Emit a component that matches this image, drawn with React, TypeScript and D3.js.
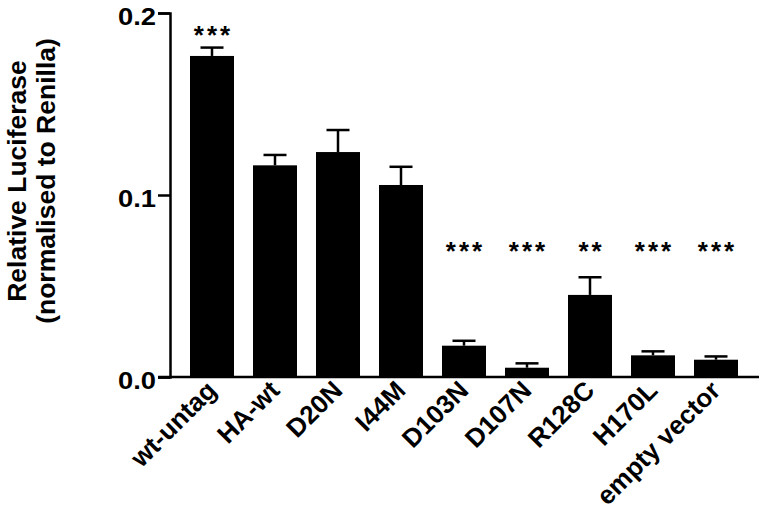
import React, { useEffect, useRef } from "react";
import * as d3 from "d3";

const categories = ["wt-untag", "HA-wt", "D20N", "I44M", "D103N", "D107N", "R128C", "H170L", "empty vector"];
const means = [0.1764, 0.1163, 0.1236, 0.1055, 0.0172, 0.0051, 0.0451, 0.0119, 0.0095];
const errors = [0.0046, 0.0057, 0.0121, 0.0100, 0.0027, 0.0024, 0.0097, 0.0022, 0.0018];
const stars = ["***", "", "", "", "***", "***", "**", "***", "***"];
const starY = [0.1832, 0, 0, 0, 0.0643, 0.0643, 0.0643, 0.0643, 0.0643];
const yTicks = [0, 0.1, 0.2];
const yLabelLines = ["Relative Luciferase", "(normalised to Renilla)"];

const W = 763;
const H = 514;
const FONT = "'Liberation Sans', Arial, Helvetica, sans-serif";

export default function App() {
  const axRef = useRef<SVGGElement>(null);

  const y = d3.scaleLinear().domain([0, 0.2]).range([377, 13]);
  const x = d3.scaleBand<string>().domain(categories).range([190, 738]).paddingInner(0.3016).paddingOuter(0);

  useEffect(() => {
    if (!axRef.current) return;
    const g = d3.select(axRef.current);
    g.selectAll("*").remove();
    const ax = d3.axisLeft(y).tickValues(yTicks).tickSize(12).tickPadding(2).tickFormat(d3.format(".1f") as any);
    const ga = g.append("g").attr("transform", "translate(170,0)").call(ax);
    ga.select(".domain").attr("stroke-width", 2.5).attr("stroke", "#000");
    ga.selectAll(".tick line").attr("stroke-width", 2.5).attr("stroke", "#000");
    ga.selectAll(".tick text")
      .attr("font-family", FONT)
      .attr("font-weight", "bold")
      .attr("font-size", 24)
      .attr("dy", "0.46em")
      .attr("textLength", 38)
      .attr("lengthAdjust", "spacingAndGlyphs")
      .attr("fill", "#000");
    ga.attr("font-family", null).attr("font-size", null);
  }, []);

  const bw = x.bandwidth();
  const capW = 23;

  return (
    <svg width={W} height={H} style={{ position: "absolute", left: 0, top: 0, background: "#fff" }}>
      <rect width={W} height={H} fill="#fff" />
      {categories.map((c, i) => {
        const x0 = x(c)!;
        const cx = x0 + bw / 2;
        const top = y(means[i]);
        const et = y(means[i] + errors[i]);
        return (
          <g key={c}>
            <rect x={x0} y={top} width={bw} height={y(0) - top} fill="#000" />
            <line x1={cx} x2={cx} y1={top} y2={et} stroke="#000" strokeWidth={2.5} />
            <line x1={cx - capW / 2} x2={cx + capW / 2} y1={et} y2={et} stroke="#000" strokeWidth={2.5} />
            {stars[i] && (
              <text x={cx + 1.5} y={y(starY[i])} textAnchor="middle" fontFamily={FONT} fontWeight="bold" fontSize={26} letterSpacing={3}>
                {stars[i]}
              </text>
            )}
            <text
              transform={`translate(${cx + 6},${392}) rotate(-45)`}
              textAnchor="end"
              fontFamily={FONT}
              fontWeight="bold"
              fontSize={26}
            >
              {c}
            </text>
          </g>
        );
      })}
      <g ref={axRef} />
      <line x1={158} x2={759} y1={y(0)} y2={y(0)} stroke="#000" strokeWidth={2.5} />
      {yLabelLines.map((t, i) => (
        <text
          key={t}
          transform={`translate(${i === 0 ? 25.5 : 55},181) rotate(-90)`}
          textAnchor="middle"
          fontFamily={FONT}
          fontWeight="bold"
          fontSize={26.5}
        >
          {t}
        </text>
      ))}
    </svg>
  );
}
